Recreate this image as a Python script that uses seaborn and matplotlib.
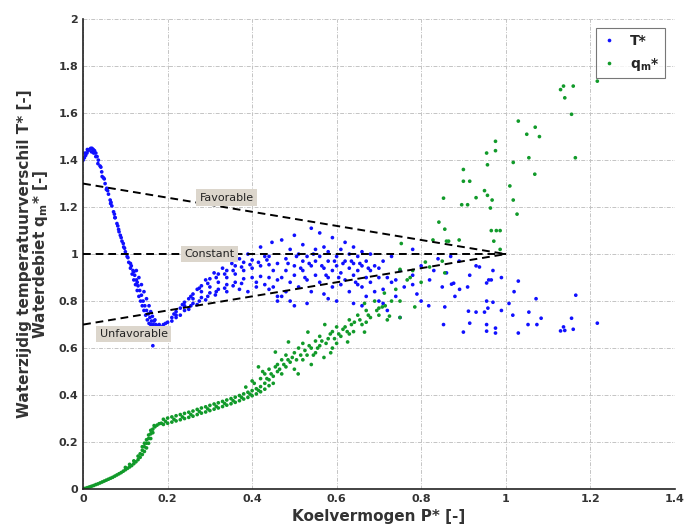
import pandas as pd
import matplotlib
matplotlib.use("Agg")
import matplotlib.pyplot as plt
import seaborn as sns

# T* points (P*, T*)
t_descent = [
    (0.000, 1.40), (0.003, 1.41), (0.006, 1.42), (0.009, 1.43), (0.012, 1.44), (0.015, 1.445),
    (0.018, 1.45), (0.021, 1.45), (0.024, 1.445), (0.027, 1.44), (0.030, 1.43), (0.033, 1.415),
    (0.036, 1.40), (0.040, 1.375), (0.044, 1.35), (0.048, 1.325), (0.052, 1.30), (0.056, 1.28),
    (0.060, 1.255), (0.064, 1.23), (0.068, 1.205), (0.072, 1.18), (0.076, 1.155), (0.080, 1.13),
    (0.084, 1.105), (0.088, 1.08), (0.092, 1.055), (0.096, 1.03), (0.100, 1.01), (0.104, 0.99),
    (0.108, 0.965), (0.112, 0.94), (0.116, 0.915), (0.120, 0.89), (0.124, 0.87), (0.128, 0.845),
    (0.132, 0.82), (0.136, 0.80), (0.140, 0.78), (0.144, 0.76), (0.148, 0.74), (0.152, 0.72),
    (0.156, 0.705), (0.112, 0.96), (0.118, 0.93), (0.122, 0.91), (0.126, 0.89), (0.130, 0.865),
    (0.134, 0.845), (0.138, 0.825), (0.142, 0.80), (0.146, 0.78), (0.150, 0.76), (0.154, 0.745),
    (0.158, 0.73), (0.162, 0.715), (0.166, 0.70), (0.126, 0.93), (0.132, 0.90), (0.138, 0.87),
    (0.144, 0.84), (0.150, 0.81), (0.156, 0.78), (0.160, 0.755), (0.164, 0.735), (0.168, 0.715),
    (0.172, 0.70), (0.165, 0.61), (0.176, 0.695), (0.180, 0.70), (0.170, 0.72), (0.160, 0.70),
    (0.005, 1.43), (0.010, 1.445), (0.020, 1.435), (0.025, 1.43), (0.030, 1.415), (0.035, 1.385),
    (0.045, 1.33), (0.055, 1.275), (0.065, 1.215), (0.075, 1.155), (0.085, 1.095), (0.095, 1.045),
    (0.042, 1.37), (0.050, 1.32), (0.058, 1.27), (0.066, 1.22), (0.074, 1.17), (0.082, 1.12),
    (0.090, 1.07), (0.098, 1.025), (0.106, 0.985), (0.114, 0.95), (0.120, 0.925), (0.128, 0.88),
]
t_rise = [
    (0.185, 0.69), (0.19, 0.70), (0.195, 0.705), (0.20, 0.71), (0.21, 0.73), (0.23, 0.77),
    (0.25, 0.81), (0.27, 0.85), (0.29, 0.89), (0.31, 0.92), (0.33, 0.94), (0.352, 0.96),
    (0.37, 0.98), (0.39, 1.00), (0.42, 1.03), (0.447, 1.05), (0.21, 0.715), (0.23, 0.74),
    (0.25, 0.765), (0.27, 0.785), (0.29, 0.805), (0.313, 0.826), (0.34, 0.84), (0.37, 0.85),
    (0.41, 0.86), (0.44, 0.85), (0.47, 0.82), (0.22, 0.74), (0.24, 0.78), (0.26, 0.81),
    (0.28, 0.84), (0.30, 0.86), (0.32, 0.88), (0.34, 0.90), (0.36, 0.915), (0.38, 0.93),
    (0.40, 0.94), (0.42, 0.95), (0.44, 0.955), (0.22, 0.755), (0.24, 0.795), (0.26, 0.83),
    (0.28, 0.865), (0.30, 0.895), (0.32, 0.915), (0.34, 0.93), (0.36, 0.95), (0.38, 0.965),
    (0.40, 0.975), (0.43, 0.99), (0.22, 0.73), (0.24, 0.76), (0.26, 0.79), (0.28, 0.815),
    (0.30, 0.835), (0.32, 0.85), (0.34, 0.87), (0.36, 0.88), (0.38, 0.895), (0.40, 0.90),
    (0.42, 0.905), (0.44, 0.90), (0.46, 0.89), (0.39, 0.84), (0.41, 0.88), (0.43, 0.87),
    (0.45, 0.93), (0.46, 0.96), (0.44, 0.99), (0.45, 0.86), (0.47, 0.90), (0.48, 0.84),
    (0.49, 0.80), (0.50, 0.78), (0.46, 0.82), (0.215, 0.745), (0.235, 0.785), (0.255, 0.82),
    (0.275, 0.855), (0.295, 0.875), (0.315, 0.90), (0.335, 0.915), (0.355, 0.93), (0.375, 0.945),
    (0.395, 0.955), (0.415, 0.965), (0.435, 0.975), (0.255, 0.78), (0.275, 0.80), (0.295, 0.82),
    (0.315, 0.84), (0.335, 0.855), (0.355, 0.865), (0.375, 0.875),
]
t_cloud = [
    (0.47, 1.06), (0.48, 0.98), (0.48, 0.93), (0.49, 1.02), (0.49, 0.88), (0.50, 1.08),
    (0.50, 0.95), (0.50, 0.91), (0.51, 1.00), (0.51, 0.86), (0.52, 0.97), (0.52, 0.93),
    (0.52, 1.04), (0.53, 0.89), (0.53, 0.99), (0.54, 1.11), (0.54, 0.95), (0.54, 0.84),
    (0.55, 1.02), (0.55, 0.91), (0.55, 0.97), (0.56, 1.09), (0.56, 0.88), (0.56, 0.99),
    (0.57, 0.94), (0.57, 1.03), (0.57, 0.83), (0.58, 0.97), (0.58, 0.90), (0.58, 1.01),
    (0.59, 1.07), (0.59, 0.93), (0.59, 0.86), (0.60, 0.99), (0.60, 0.95), (0.60, 0.80),
    (0.61, 0.87), (0.61, 1.02), (0.61, 0.92), (0.62, 0.97), (0.62, 0.89), (0.62, 1.05),
    (0.63, 0.94), (0.63, 0.84), (0.63, 1.00), (0.64, 1.03), (0.64, 0.91), (0.64, 0.96),
    (0.65, 0.87), (0.65, 0.99), (0.65, 0.93), (0.66, 0.86), (0.66, 1.01), (0.66, 0.95),
    (0.67, 0.90), (0.67, 0.97), (0.67, 0.82), (0.68, 0.93), (0.68, 1.00), (0.68, 0.88),
    (0.69, 0.95), (0.69, 0.84), (0.70, 0.94), (0.70, 0.90), (0.70, 0.80), (0.71, 0.85),
    (0.71, 0.79), (0.71, 0.97), (0.72, 0.90), (0.72, 0.76), (0.73, 0.88), (0.73, 0.99),
    (0.74, 0.89), (0.74, 0.82), (0.75, 0.73), (0.75, 0.93), (0.76, 0.86), (0.78, 1.02),
    (0.78, 0.91), (0.79, 0.83), (0.46, 0.80), (0.53, 0.79), (0.58, 0.81), (0.64, 0.79),
    (0.66, 0.78), (0.485, 0.96), (0.505, 0.99), (0.515, 0.94), (0.525, 0.90), (0.535, 0.96),
    (0.545, 1.00), (0.565, 0.95), (0.575, 0.91), (0.595, 0.97), (0.605, 0.90), (0.615, 0.96),
    (0.635, 0.97), (0.645, 0.88), (0.655, 0.96), (0.675, 0.94),
]
t_sparse = [
    (0.82, 0.89), (0.818, 0.78), (0.85, 0.86), (0.853, 0.70), (0.856, 0.775), (0.872, 0.872),
    (0.877, 0.876), (0.891, 0.85), (0.90, 0.668), (0.912, 0.757), (0.915, 0.91), (0.915, 0.706),
    (0.93, 0.753), (0.938, 0.945), (0.95, 0.753), (0.955, 0.877), (0.955, 0.80), (0.955, 0.672),
    (0.955, 0.70), (0.958, 0.77), (0.96, 0.89), (0.966, 0.89), (0.97, 0.93), (0.97, 0.795),
    (0.976, 0.685), (0.976, 0.664), (0.99, 0.90), (0.99, 0.76), (1.008, 0.79), (1.017, 0.74),
    (1.02, 0.84), (1.03, 0.885), (1.03, 0.664), (1.053, 0.70), (1.055, 0.753), (1.072, 0.81),
    (1.074, 0.70), (1.084, 0.727), (1.13, 0.673), (1.137, 0.69), (1.14, 0.675), (1.156, 0.727),
    (1.16, 0.68), (1.166, 0.825), (1.217, 0.706), (0.80, 0.95), (0.83, 0.93), (0.84, 0.98),
    (0.87, 0.99), (0.86, 0.92), (0.89, 0.97), (0.78, 0.87), (0.80, 0.80), (0.88, 0.82),
    (0.91, 0.86), (0.93, 0.95),
]

# q_m* points (P*, q_m*)
q_low = [
    (0.000, 0.000), (0.005, 0.003), (0.010, 0.006), (0.015, 0.009), (0.020, 0.012), (0.025, 0.015),
    (0.030, 0.019), (0.035, 0.022), (0.040, 0.026), (0.045, 0.030), (0.050, 0.034), (0.055, 0.038),
    (0.060, 0.042), (0.065, 0.046), (0.070, 0.050), (0.075, 0.055), (0.080, 0.060), (0.085, 0.065),
    (0.090, 0.070), (0.095, 0.076), (0.100, 0.082), (0.105, 0.088), (0.110, 0.094), (0.115, 0.100),
    (0.120, 0.108), (0.125, 0.116), (0.130, 0.125), (0.135, 0.135), (0.140, 0.147), (0.145, 0.160),
    (0.150, 0.175), (0.155, 0.195), (0.160, 0.215), (0.165, 0.240), (0.170, 0.265), (0.175, 0.272),
    (0.180, 0.278), (0.185, 0.280), (0.130, 0.140), (0.135, 0.150), (0.140, 0.165), (0.145, 0.180),
    (0.150, 0.195), (0.155, 0.215), (0.160, 0.235), (0.165, 0.255), (0.168, 0.270), (0.160, 0.250),
    (0.155, 0.230), (0.150, 0.210), (0.145, 0.195), (0.140, 0.180), (0.120, 0.120), (0.110, 0.105),
    (0.100, 0.092),
]
q_band = [
    (0.19, 0.297), (0.20, 0.302), (0.21, 0.307), (0.22, 0.312), (0.23, 0.317), (0.24, 0.322),
    (0.25, 0.327), (0.26, 0.332), (0.27, 0.339), (0.28, 0.345), (0.29, 0.350), (0.30, 0.356),
    (0.31, 0.362), (0.32, 0.367), (0.33, 0.373), (0.34, 0.379), (0.35, 0.385), (0.36, 0.391),
    (0.37, 0.398), (0.38, 0.405), (0.39, 0.412), (0.40, 0.419), (0.41, 0.427), (0.42, 0.436),
    (0.19, 0.275), (0.20, 0.280), (0.21, 0.285), (0.22, 0.290), (0.23, 0.295), (0.24, 0.300),
    (0.25, 0.305), (0.26, 0.310), (0.27, 0.317), (0.28, 0.323), (0.29, 0.328), (0.30, 0.334),
    (0.31, 0.340), (0.32, 0.345), (0.33, 0.351), (0.34, 0.357), (0.35, 0.363), (0.36, 0.369),
    (0.37, 0.376), (0.38, 0.383), (0.39, 0.390), (0.40, 0.397), (0.41, 0.405), (0.42, 0.414),
    (0.195, 0.288), (0.215, 0.297), (0.235, 0.307), (0.255, 0.317), (0.275, 0.330), (0.295, 0.341),
    (0.315, 0.352), (0.335, 0.364), (0.355, 0.376), (0.375, 0.390), (0.395, 0.404), (0.415, 0.420),
    (0.43, 0.45), (0.43, 0.425), (0.44, 0.44), (0.44, 0.465), (0.45, 0.45), (0.45, 0.48),
]
q_cloud = [
    (0.385, 0.434), (0.40, 0.46), (0.415, 0.52), (0.42, 0.47), (0.43, 0.49), (0.44, 0.51),
    (0.455, 0.583), (0.46, 0.50), (0.46, 0.53), (0.47, 0.55), (0.47, 0.49), (0.48, 0.57),
    (0.48, 0.52), (0.486, 0.626), (0.49, 0.54), (0.50, 0.58), (0.50, 0.51), (0.509, 0.49),
    (0.51, 0.60), (0.52, 0.55), (0.52, 0.62), (0.53, 0.57), (0.532, 0.668), (0.54, 0.60),
    (0.54, 0.53), (0.55, 0.63), (0.55, 0.58), (0.56, 0.65), (0.56, 0.61), (0.57, 0.56),
    (0.572, 0.70), (0.58, 0.64), (0.586, 0.58), (0.59, 0.67), (0.60, 0.62), (0.60, 0.69),
    (0.61, 0.65), (0.62, 0.69), (0.626, 0.626), (0.63, 0.72), (0.64, 0.67), (0.642, 0.71),
    (0.65, 0.74), (0.66, 0.70), (0.666, 0.79), (0.666, 0.668), (0.67, 0.76), (0.68, 0.73),
    (0.69, 0.80), (0.70, 0.77), (0.708, 0.775), (0.713, 0.834), (0.72, 0.72), (0.725, 0.736),
    (0.73, 0.80), (0.74, 0.85), (0.75, 0.73), (0.75, 0.80), (0.75, 0.935), (0.767, 0.89),
    (0.774, 0.90), (0.78, 0.93), (0.785, 0.775), (0.80, 0.88), (0.81, 0.966), (0.82, 0.945),
    (0.85, 0.97), (0.856, 0.92), (0.59, 0.60), (0.63, 0.66), (0.67, 0.71), (0.70, 0.74),
    (0.405, 0.45), (0.425, 0.50), (0.435, 0.47), (0.445, 0.49), (0.455, 0.52), (0.465, 0.51),
    (0.475, 0.53), (0.485, 0.55), (0.495, 0.56), (0.505, 0.55), (0.515, 0.57), (0.525, 0.59),
    (0.535, 0.61), (0.545, 0.57), (0.555, 0.60), (0.565, 0.63), (0.575, 0.62), (0.585, 0.66),
    (0.595, 0.64), (0.605, 0.66), (0.615, 0.68), (0.625, 0.67), (0.635, 0.70), (0.655, 0.72),
    (0.675, 0.74), (0.695, 0.76), (0.715, 0.78),
]
q_sparse = [
    (0.753, 1.045), (0.828, 1.06), (0.842, 1.136), (0.853, 1.238), (0.856, 1.106), (0.86, 1.055),
    (0.865, 1.055), (0.89, 1.06), (0.896, 1.21), (0.90, 1.36), (0.90, 1.31), (0.91, 1.21),
    (0.915, 1.31), (0.93, 1.24), (0.95, 1.27), (0.955, 1.43), (0.957, 1.38), (0.957, 1.25),
    (0.964, 1.196), (0.966, 1.10), (0.968, 1.23), (0.972, 1.055), (0.976, 1.48), (0.976, 1.44),
    (0.978, 1.10), (0.987, 1.10), (0.987, 1.02), (1.01, 1.29), (1.018, 1.39), (1.018, 1.23),
    (1.027, 1.17), (1.03, 1.566), (1.05, 1.51), (1.055, 1.41), (1.069, 1.34), (1.07, 1.54),
    (1.08, 1.50), (1.13, 1.70), (1.137, 1.715), (1.14, 1.665), (1.156, 1.595), (1.16, 1.715),
    (1.165, 1.41), (1.217, 1.736),
]

# reference lines: (label, y at P*=0) all meeting at (1, 1)
ref_lines = [("Favorable", 1.3), ("Constant", 1.0), ("Unfavorable", 0.7)]
label_pos = [(0.34, 1.24), (0.30, 1.0), (0.12, 0.66)]

t_pts = t_descent + t_rise + t_cloud + t_sparse
q_pts = q_low + q_band + q_cloud + q_sparse
df = pd.DataFrame(
    [(p, v, "T*") for p, v in t_pts] + [(p, v, "q_m*") for p, v in q_pts],
    columns=["P", "val", "series"],
)

sns.set_style("white")
plt.rcParams["font.family"] = ["DejaVu Sans"]

fig, ax = plt.subplots(figsize=(6.87, 5.31), dpi=100)
fig.subplots_adjust(left=0.121, right=0.982, bottom=0.079, top=0.964)

sns.scatterplot(data=df, x="P", y="val", hue="series",
                palette={"T*": "#1010ff", "q_m*": "#119a2a"},
                marker="o", s=7, linewidth=0, ax=ax, zorder=2)

for (name, y0), (lx, ly) in zip(ref_lines, label_pos):
    ax.plot([0, 1], [y0, 1.0], color="black", ls=(0, (4, 2.5)), lw=1.4, zorder=3)
    ax.text(lx, ly, name, fontsize=8, color="#222222", ha="center", va="center", zorder=4,
            bbox=dict(boxstyle="square,pad=0.3", fc="#dcd6cc", ec="none"))

ax.set_xlim(0, 1.4)
ax.set_ylim(0, 2)
ax.set_xticks([0, 0.2, 0.4, 0.6, 0.8, 1.0, 1.2, 1.4])
ax.set_yticks([0, 0.2, 0.4, 0.6, 0.8, 1.0, 1.2, 1.4, 1.6, 1.8, 2.0])
ax.xaxis.set_major_formatter(matplotlib.ticker.FormatStrFormatter("%g"))
ax.yaxis.set_major_formatter(matplotlib.ticker.FormatStrFormatter("%g"))
ax.tick_params(direction="in", length=4, labelsize=8, colors="#333333")
for lab in ax.get_xticklabels() + ax.get_yticklabels():
    lab.set_fontweight("bold")
ax.grid(True, color="#c4c4c4", ls=(0, (4, 1.5, 1, 1.5)), lw=0.7)
ax.set_axisbelow(True)
for side in ["top", "right"]:
    ax.spines[side].set_visible(False)
for side in ["left", "bottom"]:
    ax.spines[side].set_color("#222222")
    ax.spines[side].set_linewidth(1.2)

ax.set_xlabel("Koelvermogen P* [-]", fontsize=11, fontweight="bold", color="#333333", labelpad=4)
ax.set_ylabel("Waterzijdig temperatuurverschil T* [-]\nWaterdebiet q$_\\mathbf{m}$* [-]",
              fontsize=11, fontweight="bold", color="#333333", labelpad=6, linespacing=0.95)

handles, _ = ax.get_legend_handles_labels()
leg = ax.legend(handles, ["T*", "q$_\\mathbf{m}$*"], loc="upper right", frameon=True,
                fancybox=False, edgecolor="#555555", prop={"weight": "bold", "size": 10},
                handlelength=1.0, handletextpad=1.0, borderpad=0.4, labelspacing=0.6,
                borderaxespad=0.3, bbox_to_anchor=(0.99, 0.99))
leg.get_frame().set_linewidth(0.8)

plt.savefig("out.png", dpi=100)
